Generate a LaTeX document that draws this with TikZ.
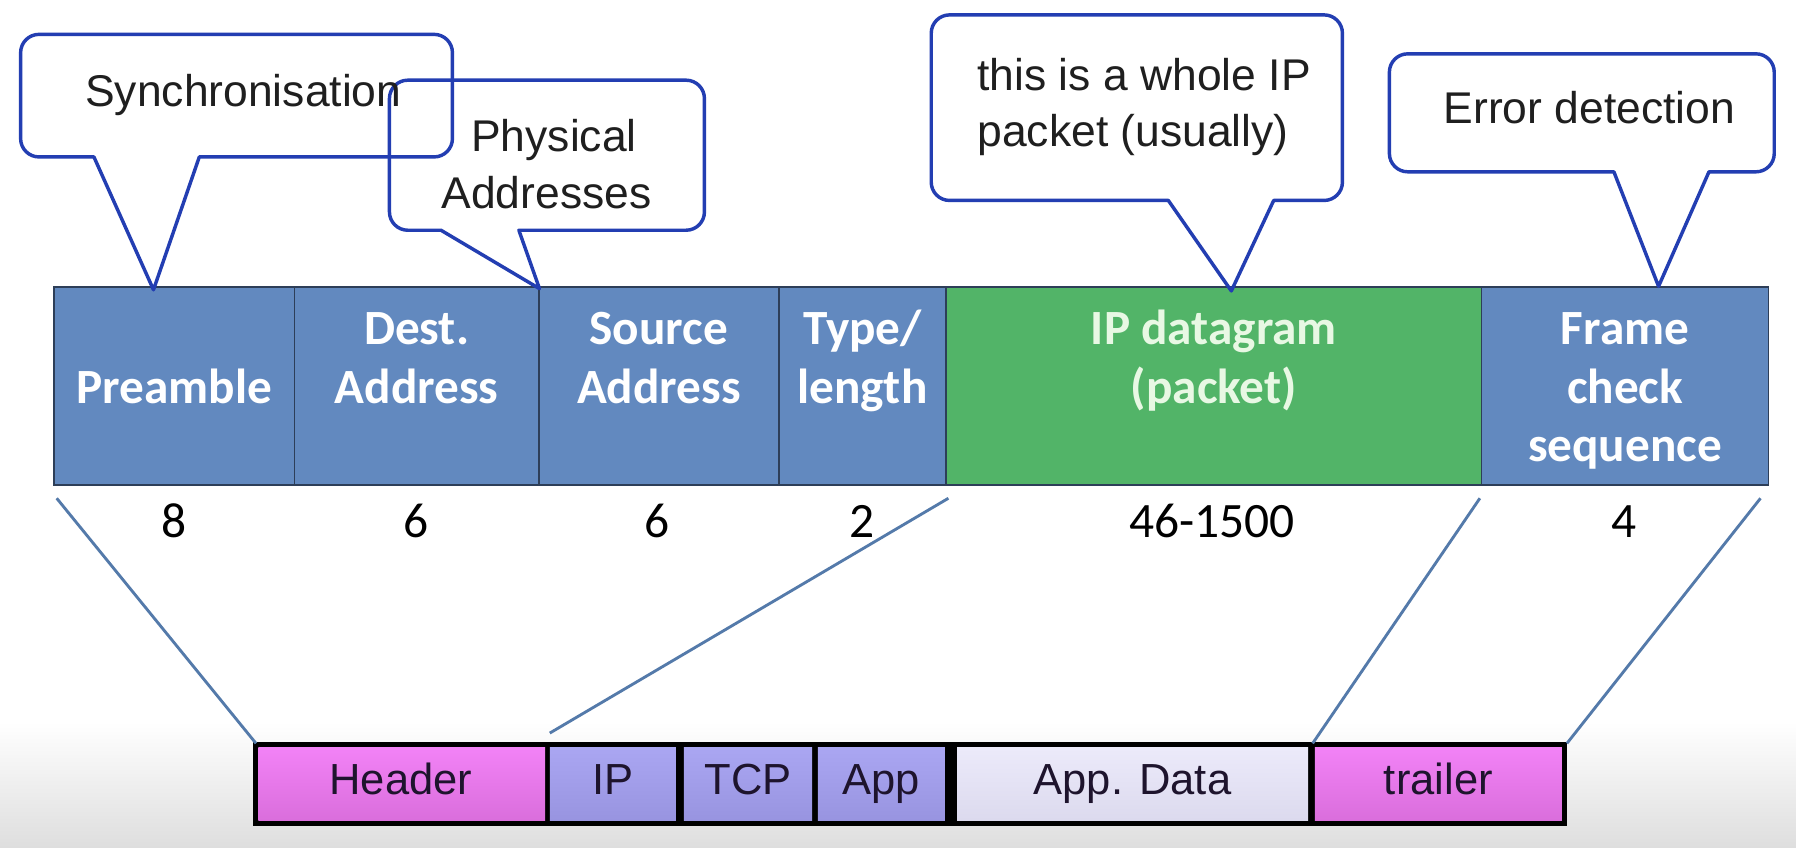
\documentclass[tikz,border=0pt]{standalone}
\usepackage{fontspec}
\setmainfont{Liberation Sans}
\newfontfamily\calib{Carlito}
\definecolor{frameblue}{RGB}{98,137,191}
\definecolor{framedark}{RGB}{45,62,88}
\definecolor{ipgreen}{RGB}{82,180,104}
\definecolor{iptext}{RGB}{232,248,228}
\definecolor{callblue}{RGB}{35,62,178}
\definecolor{linkblue}{RGB}{84,122,170}
\definecolor{bggray}{RGB}{222,222,222}
\definecolor{magtop}{RGB}{242,130,246}
\definecolor{magbot}{RGB}{218,110,220}
\definecolor{lavtop}{RGB}{170,166,242}
\definecolor{lavbot}{RGB}{152,148,224}
\definecolor{dattop}{RGB}{236,234,250}
\definecolor{datbot}{RGB}{220,218,238}
\definecolor{bartext}{RGB}{30,20,45}
\begin{document}
\begin{tikzpicture}[x=0.5pt,y=-0.5pt,
  topcell/.style={draw=framedark,line width=0.7pt,fill=frameblue,inner sep=0pt,outer sep=0pt,minimum height=86.5pt},
  lbl/.style={anchor=base,inner sep=0pt,text=white,font=\calib\bfseries\fontsize{21.5}{25}\selectfont},
  num/.style={anchor=base,inner sep=0pt,font=\calib\fontsize{21.6}{25}\selectfont},
  callout/.style={draw=callblue,line width=1.5pt,line join=round},
  ctext/.style={anchor=base west,inner sep=0pt,text=black!88,font=\fontsize{19.4}{23}\selectfont},
  botcell/.style={inner sep=0pt,outer sep=0pt,minimum height=31.5pt},
  blbl/.style={anchor=base,inner sep=0pt,text=bartext,font=\fontsize{19}{23}\selectfont},
  link/.style={draw=linkblue,line width=1.25pt}]
\useasboundingbox (0,0) rectangle (1568,740);
\fill[white] (0,0) rectangle (1568,740);
\shade[top color=white,bottom color=bggray] (0,630) rectangle (1568,740);

% ---- frame cells
\node[topcell,minimum width=105pt] (pre) at (152,337) {};
\node[topcell,minimum width=106.75pt] (dst) at (363.75,337) {};
\node[topcell,minimum width=104.75pt] (src) at (575.25,337) {};
\node[topcell,minimum width=73pt] (typ) at (753,337) {};
\node[topcell,minimum width=233.75pt,fill=ipgreen] (ipd) at (1059.75,337) {};
\node[topcell,minimum width=125.25pt] (fcs) at (1418.75,337) {};

\node[lbl] (preL) at (152,352) {Preamble};
\node[lbl] (dstL1) at (363.75,301) {Dest.};
\node[lbl] (dstL2) at (363.75,352) {Address};
\node[lbl] (srcL1) at (575.25,301) {Source};
\node[lbl] (srcL2) at (575.25,352) {Address};
\node[lbl] (typL1) at (753,301) {Type/};
\node[lbl] (typL2) at (753,352) {length};
\node[lbl,text=iptext] (ipdL1) at (1059.75,301) {IP datagram};
\node[lbl,text=iptext] (ipdL2) at (1059.75,352) {(packet)};
\node[lbl] (fcsL1) at (1418.75,301) {Frame};
\node[lbl] (fcsL2) at (1418.75,352) {check};
\node[lbl] (fcsL3) at (1418.75,403) {sequence};

% ---- sizes
\node[num] (n1) at (152,469) {8};
\node[num] (n2) at (363.5,469) {6};
\node[num] (n3) at (574,469) {6};
\node[num] (n4) at (753,469) {2};
\node[num] (n5) at (1058,469) {46-1500};
\node[num] (n6) at (1418,469) {4};

% ---- bottom bar
\node[fill=black,inner sep=0pt,outer sep=0pt,minimum width=573.7pt,minimum height=36.75pt] (bar) at (794.3,684.25) {};
\node[botcell,minimum width=125.25pt,top color=magtop,bottom color=magbot] (hdr) at (350.75,684.5) {};
\node[botcell,minimum width=55pt,top color=lavtop,bottom color=lavbot] (ip) at (535,684.5) {};
\node[botcell,minimum width=56pt,top color=lavtop,bottom color=lavbot] (tcp) at (653,684.5) {};
\node[botcell,minimum width=55.5pt,top color=lavtop,bottom color=lavbot] (app) at (769.5,684.5) {};
\node[botcell,minimum width=153.25pt,top color=dattop,bottom color=datbot] (dat) at (988.75,684.5) {};
\node[botcell,minimum width=107.75pt,top color=magtop,bottom color=magbot] (trl) at (1255.75,684.5) {};

\node[blbl] (hdrL) at (350,694) {Header};
\node[blbl] (ipL) at (535,694) {IP};
\node[blbl] (tcpL) at (653,694) {TCP};
\node[blbl] (appL) at (769.5,694) {App};
\node[blbl] (datL) at (988.75,694) {App. Data};
\node[blbl] (trlL) at (1255.75,694) {trailer};

% ---- connectors
\coordinate (l1a) at (49.5,435);
\coordinate (l1b) at (223.5,649);
\coordinate (l2a) at (828,435);
\coordinate (l2b) at (480,640);
\coordinate (l3a) at (1292,435);
\coordinate (l3b) at (1146,649);
\coordinate (l4a) at (1537,435);
\coordinate (l4b) at (1368,649);
\draw[link] (l1a) -- (l1b);
\draw[link] (l2a) -- (l2b);
\draw[link] (l3a) -- (l3b);
\draw[link] (l4a) -- (l4b);

% ---- callouts
\coordinate (t1) at (134,253);
\coordinate (t2) at (471,252);
\coordinate (t3) at (1075,254);
\coordinate (t4) at (1448,250);
\draw[callout] (206,30) [rounded corners=8pt] -- (18,30) -- (18,137) [sharp corners] -- (82,137) -- (t1) -- (174,137) [rounded corners=8pt] -- (395,137) -- (395,30) -- cycle;
\draw[callout] (477,70) [rounded corners=8pt] -- (340,70) -- (340,201) [sharp corners] -- (385,201) -- (t2) -- (453,201) [rounded corners=8pt] -- (615,201) -- (615,70) -- cycle;
\draw[callout] (992,13) [rounded corners=8pt] -- (813,13) -- (813,175) [sharp corners] -- (1020,175) -- (t3) -- (1112,175) [rounded corners=8pt] -- (1172,175) -- (1172,13) -- cycle;
\draw[callout] (1381,47) [rounded corners=8pt] -- (1213,47) -- (1213,150) [sharp corners] -- (1409,150) -- (t4) -- (1492,150) [rounded corners=8pt] -- (1549,150) -- (1549,47) -- cycle;

\node[ctext] (c1) at (74,93) {Synchronisation};
\node[ctext] (c2a) at (411,132.5) {Physical};
\node[ctext] (c2b) at (385,182) {Addresses};
\node[ctext] (c3a) at (853,78.6) {this is a whole IP};
\node[ctext] (c3b) at (853,128) {packet (usually)};
\node[ctext] (c4) at (1260,107.7) {Error detection};
\end{tikzpicture}
\end{document}
